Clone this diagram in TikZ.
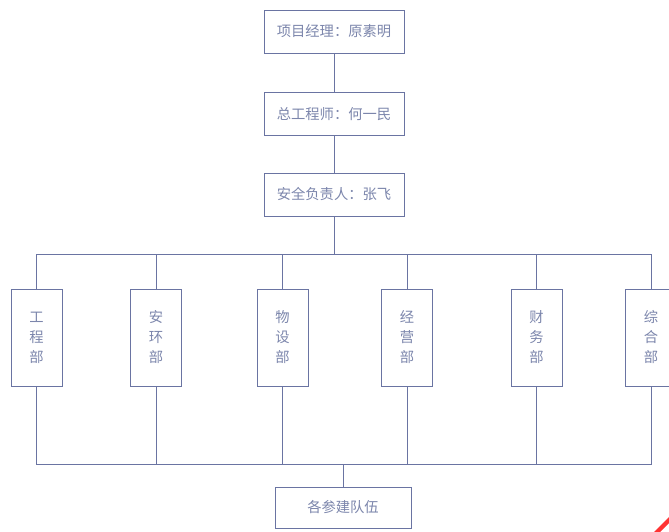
\documentclass[tikz,border=0pt]{standalone}
\usepackage{fontspec}
\newfontfamily\cjk{Noto Sans CJK SC}
\definecolor{lc}{HTML}{6A74A2}
\definecolor{tc}{HTML}{7C86AC}
\tikzset{
  box/.style={draw=lc, line width=0.9pt, fill=white, text=tc, inner sep=0pt, font=\cjk\fontsize{14.3}{20}\selectfont, align=center},
  hbox/.style={box, minimum width=140pt, minimum height=43pt},
  dbox/.style={box, minimum width=51pt, minimum height=97pt},
  conn/.style={draw=lc, line width=0.9pt}
}
\begin{document}
\begin{tikzpicture}[x=1pt,y=1pt]
\useasboundingbox (0,0) rectangle (669,-532);
\node[hbox] (p1) at (334,-31.5) {项目经理：原素明};
\node[hbox] (p2) at (334,-114) {总工程师：何一民};
\node[hbox] (p3) at (334,-194.5) {安全负责人：张飞};
\coordinate (tb) at (0,-254);
\coordinate (bb) at (0,-464.5);
\node[dbox] (d1) at (36.5,-337.5) {工\\程\\部};
\node[dbox] (d2) at (156,-337.5) {安\\环\\部};
\node[dbox] (d3) at (282.5,-337.5) {物\\设\\部};
\node[dbox] (d4) at (407,-337.5) {经\\营\\部};
\node[dbox] (d5) at (536.5,-337.5) {财\\务\\部};
\node[dbox] (d6) at (651,-337.5) {综\\合\\部};
\node[box, minimum width=136pt, minimum height=41pt] (q) at (343,-507.5) {各参建队伍};
\draw[conn] (p1.south) -- (p2.north);
\draw[conn] (p2.south) -- (p3.north);
\draw[conn] (p3.south) -- (p3.south |- tb);
\draw[conn] (d1.north |- tb) -- (d6.north |- tb);
\draw[conn] (d1.south |- bb) -- (d6.south |- bb);
\foreach \d in {d1,d2,d3,d4,d5,d6}{
  \draw[conn] (\d.north) -- (\d.north |- tb);
  \draw[conn] (\d.south) -- (\d.south |- bb);
}
\draw[conn] (q.north) -- (q.north |- bb);
\fill[red!80!white] (669,-517) -- (669,-523) -- (660,-532) -- (654,-532) -- cycle;
\end{tikzpicture}
\end{document}
